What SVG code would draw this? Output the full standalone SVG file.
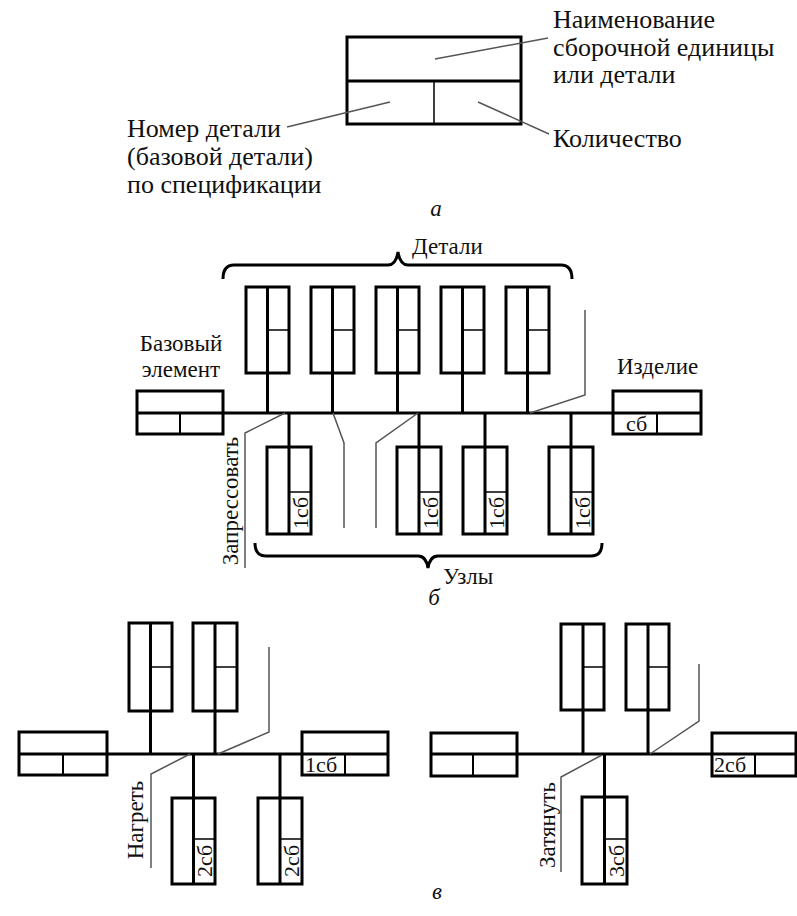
<svg xmlns="http://www.w3.org/2000/svg" width="797" height="916" viewBox="0 0 797 916">
<style>
.k{stroke:#000;stroke-width:3;fill:none}
.t{stroke:#000;stroke-width:1.5;fill:none}
.ld{stroke:#555;stroke-width:1.5;fill:none}
text{fill:#111}
.l{font-size:23px}
.a{font-size:26px}
.s{font-size:22px}
.i{font-size:23px;font-style:italic}
</style>
<rect width="797" height="916" fill="#fff"/>
<g font-family="'Liberation Serif','DejaVu Serif','Times New Roman',serif">
<!-- Part a -->
<g id="legend-box">
<rect class="k" x="347" y="37" width="174" height="87"/>
<line class="k" x1="347" y1="81" x2="521" y2="81"/>
<line class="t" x1="434" y1="81" x2="434" y2="124"/>
</g>
<g id="legend-leaders">
<polyline class="ld" points="435,59 548,38"/>
<polyline class="ld" points="390,102 287,127"/>
<polyline class="ld" points="478,102 549,134"/>
</g>
<g id="legend-text">
<text class="a" x="553" y="28">Наименование</text>
<text class="a" x="553" y="56">сборочной единицы</text>
<text class="a" x="553" y="83">или детали</text>
<text class="a" x="127" y="137">Номер детали</text>
<text class="a" x="127" y="165">(базовой детали)</text>
<text class="a" x="127" y="193">по спецификации</text>
<text class="a" x="553" y="147">Количество</text>
<text class="i" x="436" y="216" text-anchor="middle">а</text>
</g>

<!-- Part b -->
<g id="b-connectors">
<line class="k" x1="137" y1="413" x2="701" y2="413"/>
<line class="k" x1="267.5" y1="373" x2="267.5" y2="413"/>
<line class="k" x1="332.5" y1="373" x2="332.5" y2="413"/>
<line class="k" x1="397.5" y1="373" x2="397.5" y2="413"/>
<line class="k" x1="462.5" y1="373" x2="462.5" y2="413"/>
<line class="k" x1="527.5" y1="373" x2="527.5" y2="413"/>
<line class="k" x1="289" y1="413" x2="289" y2="447"/>
<line class="k" x1="419" y1="413" x2="419" y2="447"/>
<line class="k" x1="485" y1="413" x2="485" y2="447"/>
<line class="k" x1="571" y1="413" x2="571" y2="447"/>
<polyline class="ld" points="285,413 245,433 245,568"/>
<polyline class="ld" points="333,413 344,443 344,528"/>
<polyline class="ld" points="418,413 376,443 376,528"/>
<polyline class="ld" points="530,413 585,395 585,310"/>
<path class="k" d="M223,279 Q223,265 234,265 L388,265 Q396,265 398,252 Q400,265 408,265 L561,265 Q572,265 572,279"/>
<path class="k" d="M255,543 Q255,556 266,556 L418,556 Q426,556 428,568 Q430,556 438,556 L591,556 Q602,556 602,543"/>
</g>
<g id="b-base">
<rect class="k" x="137" y="391" width="86" height="43"/>
<line class="t" x1="180" y1="413" x2="180" y2="434" style="stroke-width:2"/>
</g>
<g id="b-product">
<rect class="k" x="613" y="391" width="88" height="43"/>
<line class="t" x1="657" y1="413" x2="657" y2="434" style="stroke-width:2"/>
<text class="s" x="626" y="431">сб</text>
</g>
<g id="b-d1"><rect class="k" x="246" y="287" width="43" height="86"/><line class="k" x1="267.5" y1="287" x2="267.5" y2="373"/><line class="t" x1="267.5" y1="330" x2="289" y2="330"/></g>
<g id="b-d2"><rect class="k" x="311" y="287" width="43" height="86"/><line class="k" x1="332.5" y1="287" x2="332.5" y2="373"/><line class="t" x1="332.5" y1="330" x2="354" y2="330"/></g>
<g id="b-d3"><rect class="k" x="376" y="287" width="43" height="86"/><line class="k" x1="397.5" y1="287" x2="397.5" y2="373"/><line class="t" x1="397.5" y1="330" x2="419" y2="330"/></g>
<g id="b-d4"><rect class="k" x="441" y="287" width="43" height="86"/><line class="k" x1="462.5" y1="287" x2="462.5" y2="373"/><line class="t" x1="462.5" y1="330" x2="484" y2="330"/></g>
<g id="b-d5"><rect class="k" x="506" y="287" width="43" height="86"/><line class="k" x1="527.5" y1="287" x2="527.5" y2="373"/><line class="t" x1="527.5" y1="330" x2="549" y2="330"/></g>
<g id="b-u1"><rect class="k" x="267" y="447" width="44" height="87"/><line class="k" x1="289" y1="447" x2="289" y2="534"/><line class="t" x1="289" y1="492" x2="311" y2="492"/><text class="s" transform="translate(308,513) rotate(-90)" text-anchor="middle">1сб</text></g>
<g id="b-u2"><rect class="k" x="397" y="447" width="44" height="87"/><line class="k" x1="419" y1="447" x2="419" y2="534"/><line class="t" x1="419" y1="492" x2="441" y2="492"/><text class="s" transform="translate(438,513) rotate(-90)" text-anchor="middle">1сб</text></g>
<g id="b-u3"><rect class="k" x="463" y="447" width="44" height="87"/><line class="k" x1="485" y1="447" x2="485" y2="534"/><line class="t" x1="485" y1="492" x2="507" y2="492"/><text class="s" transform="translate(504,513) rotate(-90)" text-anchor="middle">1сб</text></g>
<g id="b-u4"><rect class="k" x="549" y="447" width="44" height="87"/><line class="k" x1="571" y1="447" x2="571" y2="534"/><line class="t" x1="571" y1="492" x2="593" y2="492"/><text class="s" transform="translate(590,513) rotate(-90)" text-anchor="middle">1сб</text></g>
<g id="b-text">
<text class="l" x="412" y="254">Детали</text>
<text class="l" x="181" y="351" text-anchor="middle">Базовый</text>
<text class="l" x="181" y="377" text-anchor="middle">элемент</text>
<text class="l" x="617" y="374">Изделие</text>
<text class="l" x="443" y="584">Узлы</text>
<text class="l" transform="translate(238,501) rotate(-90)" text-anchor="middle">Запрессовать</text>
<text class="i" x="434" y="605" text-anchor="middle">б</text>
</g>

<!-- Part c left -->
<g id="c1-connectors">
<line class="k" x1="19" y1="754" x2="388" y2="754"/>
<line class="k" x1="150.5" y1="711" x2="150.5" y2="754"/>
<line class="k" x1="215" y1="711" x2="215" y2="754"/>
<line class="k" x1="193.5" y1="754" x2="193.5" y2="798"/>
<line class="k" x1="280" y1="754" x2="280" y2="798"/>
<polyline class="ld" points="218,754 269,732 269,647"/>
<polyline class="ld" points="190,754 151,774 151,868"/>
</g>
<g id="c1-base"><rect class="k" x="19" y="732" width="88" height="43"/><line class="t" x1="63" y1="754" x2="63" y2="775" style="stroke-width:2"/></g>
<g id="c1-result"><rect class="k" x="302" y="732" width="86" height="43"/><line class="t" x1="345" y1="754" x2="345" y2="775" style="stroke-width:2"/><text class="s" x="305" y="772">1сб</text></g>
<g id="c1-d1"><rect class="k" x="129" y="623" width="43" height="88"/><line class="k" x1="150.5" y1="623" x2="150.5" y2="711"/><line class="t" x1="150.5" y1="667" x2="172" y2="667"/></g>
<g id="c1-d2"><rect class="k" x="193" y="623" width="44" height="88"/><line class="k" x1="215" y1="623" x2="215" y2="711"/><line class="t" x1="215" y1="667" x2="237" y2="667"/></g>
<g id="c1-u1"><rect class="k" x="172" y="798" width="43" height="86"/><line class="k" x1="193.5" y1="798" x2="193.5" y2="884"/><line class="t" x1="193.5" y1="839" x2="215" y2="839"/><text class="s" transform="translate(212,861) rotate(-90)" text-anchor="middle">2сб</text></g>
<g id="c1-u2"><rect class="k" x="258" y="798" width="44" height="86"/><line class="k" x1="280" y1="798" x2="280" y2="884"/><line class="t" x1="280" y1="839" x2="302" y2="839"/><text class="s" transform="translate(299,861) rotate(-90)" text-anchor="middle">2сб</text></g>
<g id="c1-text"><text class="l" transform="translate(143,820) rotate(-90)" text-anchor="middle">Нагреть</text></g>

<!-- Part c right -->
<g id="c2-connectors">
<line class="k" x1="431" y1="754" x2="797" y2="754"/>
<line class="k" x1="583" y1="710" x2="583" y2="754"/>
<line class="k" x1="648" y1="710" x2="648" y2="754"/>
<line class="k" x1="604.5" y1="754" x2="604.5" y2="797"/>
<polyline class="ld" points="650,754 699,721 699,664"/>
<polyline class="ld" points="602,755 561,777 561,872"/>
</g>
<g id="c2-base"><rect class="k" x="431" y="733" width="86" height="43"/><line class="t" x1="473" y1="754" x2="473" y2="776" style="stroke-width:2"/></g>
<g id="c2-result"><rect class="k" x="712" y="733" width="84" height="43"/><line class="t" x1="755" y1="754" x2="755" y2="776" style="stroke-width:2"/><text class="s" x="714" y="772">2сб</text></g>
<g id="c2-d1"><rect class="k" x="561" y="624" width="43" height="86"/><line class="k" x1="583" y1="624" x2="583" y2="710"/><line class="t" x1="583" y1="667" x2="604" y2="667"/></g>
<g id="c2-d2"><rect class="k" x="626" y="624" width="43" height="86"/><line class="k" x1="648" y1="624" x2="648" y2="710"/><line class="t" x1="648" y1="667" x2="669" y2="667"/></g>
<g id="c2-u1"><rect class="k" x="582" y="797" width="45" height="87"/><line class="k" x1="604.5" y1="797" x2="604.5" y2="884"/><line class="t" x1="604.5" y1="839" x2="627" y2="839"/><text class="s" transform="translate(624,861) rotate(-90)" text-anchor="middle">3сб</text></g>
<g id="c2-text">
<text class="l" transform="translate(555,825) rotate(-90)" text-anchor="middle">Затянуть</text>
<text class="i" x="437" y="899" text-anchor="middle">в</text>
</g>
</g>
</svg>
